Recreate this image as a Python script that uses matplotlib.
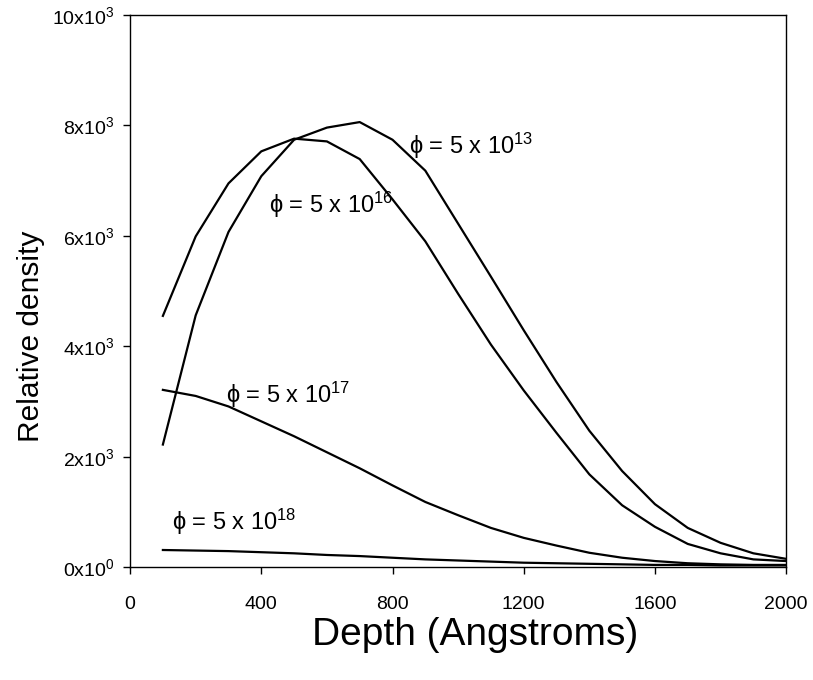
import matplotlib
matplotlib.use("Agg")
import matplotlib.pyplot as plt

# depth in Angstroms, density values
depth = [100, 200, 300, 400, 500, 600, 700, 800, 900, 1000,
         1100, 1200, 1300, 1400, 1500, 1600, 1700, 1800, 1900, 2000]

dens_5e13 = [2220, 4560, 6070, 7080, 7740, 7960, 8060, 7740, 7180, 6220,
             5260, 4290, 3350, 2470, 1740, 1140, 710, 440, 250, 150]
dens_5e16 = [4550, 5990, 6950, 7530, 7760, 7710, 7390, 6660, 5900, 4950,
             4030, 3200, 2430, 1680, 1120, 730, 420, 250, 140, 110]
dens_5e17 = [3210, 3100, 2910, 2640, 2370, 2080, 1790, 1480, 1180, 940,
             710, 530, 390, 260, 170, 110, 70, 50, 40, 40]
dens_5e18 = [310, 300, 290, 270, 250, 220, 200, 170, 140, 120,
             100, 80, 70, 60, 50, 40, 40, 30, 30, 30]

curves = [dens_5e13, dens_5e16, dens_5e17, dens_5e18]
curve_labels = [r"$\phi$ = 5 x 10$^{13}$", r"$\phi$ = 5 x 10$^{16}$",
                r"$\phi$ = 5 x 10$^{17}$", r"$\phi$ = 5 x 10$^{18}$"]
label_pos = [(850, 7480), (425, 6420), (293, 2980), (129, 670)]

xticks = [0, 400, 800, 1200, 1600, 2000]
yticks = [0, 2000, 4000, 6000, 8000, 10000]
ytick_labels = ["0x10$^0$", "2x10$^3$", "4x10$^3$", "6x10$^3$", "8x10$^3$", "10x10$^3$"]

plt.rcParams["font.family"] = ["Liberation Sans", "DejaVu Sans"]
plt.rcParams["mathtext.default"] = "regular"

fig = plt.figure(figsize=(8.13, 6.8), dpi=100)
ax = fig.add_axes([0.160, 0.166, 0.807, 0.812])

for dens in curves:
    ax.plot(depth, dens, color="black", lw=1.6)

for txt, (x, y) in zip(curve_labels, label_pos):
    ax.text(x, y, txt, fontsize=17, va="baseline", ha="left")

ax.set_xlim(0, 2000)
ax.set_ylim(0, 10000)
ax.set_xticks(xticks)
ax.set_xticklabels([str(v) for v in xticks])
ax.set_yticks(yticks)
ax.set_yticklabels(ytick_labels)
ax.tick_params(axis="both", direction="out", length=5, width=1, labelsize=14)
ax.tick_params(axis="x", pad=16)
ax.tick_params(axis="y", pad=6)

for sp in ax.spines.values():
    sp.set_linewidth(1.0)

ax.set_xlabel("Depth (Angstroms)", fontsize=28)
ax.xaxis.set_label_coords(0.526, -0.09)
ax.set_ylabel("Relative density", fontsize=21.5)
ax.yaxis.set_label_coords(-0.13, 0.418)

fig.savefig("out.png", dpi=100)
